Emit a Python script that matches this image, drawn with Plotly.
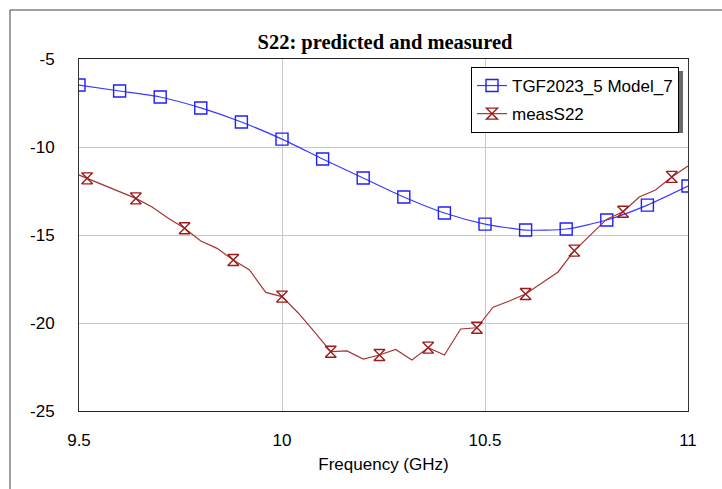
import plotly.graph_objects as go

# ---- data ----
freq_model = [9.5, 9.6, 9.7, 9.8, 9.9, 10.0, 10.1, 10.2, 10.3, 10.4, 10.5, 10.6, 10.7, 10.8, 10.9, 11.0]
s22_model = [-6.48, -6.82, -7.16, -7.78, -8.58, -9.55, -10.68, -11.76, -12.84, -13.75,
             -14.38, -14.72, -14.66, -14.15, -13.30, -12.22]

freq_meas = [9.48, 9.52, 9.56, 9.60, 9.64, 9.68, 9.72, 9.76, 9.80, 9.84, 9.88, 9.92, 9.96,
             10.00, 10.04, 10.08, 10.12, 10.16, 10.20, 10.24, 10.28, 10.32, 10.36, 10.40,
             10.44, 10.48, 10.52, 10.56, 10.60, 10.64, 10.68, 10.72, 10.76, 10.80, 10.84,
             10.88, 10.92, 10.96, 11.00]
s22_meas = [-11.40, -11.78, -12.16, -12.53, -12.92, -13.41, -14.05, -14.62, -15.34, -15.76,
            -16.42, -16.99, -18.26, -18.50, -19.43, -20.51, -21.63, -21.59, -22.05, -21.82,
            -21.50, -22.10, -21.40, -21.82, -20.34, -20.27, -19.10, -18.75, -18.35, -17.73,
            -17.10, -15.89, -15.00, -14.10, -13.68, -12.84, -12.44, -11.70, -11.08]

x_ticks = [9.5, 10, 10.5, 11]
x_ticklabels = ["9.5", "10", "10.5", "11"]
y_ticks = [-25, -20, -15, -10, -5]
y_ticklabels = ["-25", "-20", "-15", "-10", "-5"]

series_names = ["TGF2023_5 Model_7", "measS22"]
title_text = "<b>S22: predicted and measured</b>"
x_title = "Frequency (GHz)"

# ---- styles ----
BLUE_LINE = "#3a3aff"
BLUE_MK = "#1f1fff"
RED_LINE = "#a83434"
RED_MK = "#9c1c1c"

W, H = 722, 489
L, R, T, B = 79, 34, 59, 78
PW, PH = W - L - R, H - T - B


def px_to_paper_x(px):
    return (px - L) / PW


def px_to_paper_y(py):
    return (H - B - py) / PH


fig = go.Figure()

# model (blue)
fig.add_trace(go.Scatter(
    x=freq_model, y=s22_model, mode="lines+markers", name=series_names[0],
    line=dict(color=BLUE_LINE, width=1.2, shape="spline", smoothing=0.6),
    marker=dict(symbol="square-open", size=12, color=BLUE_MK, line=dict(width=1.4, color=BLUE_MK)),
    legendgroup="a", showlegend=True,
))

# measured (red): line through all points, markers on every third point
fig.add_trace(go.Scatter(
    x=freq_meas, y=s22_meas, mode="lines", name=series_names[1],
    line=dict(color=RED_LINE, width=1.2),
    legendgroup="b", showlegend=False,
))
fig.add_trace(go.Scatter(
    x=freq_meas[1::3], y=s22_meas[1::3], mode="markers", name=series_names[1],
    marker=dict(symbol="hourglass-open", size=11, color=RED_MK, line=dict(width=1.4, color=RED_MK)),
    legendgroup="b", showlegend=False,
))
# legend proxy for measured
fig.add_trace(go.Scatter(
    x=[None], y=[None], mode="lines+markers", name=series_names[1],
    line=dict(color=RED_LINE, width=1.2),
    marker=dict(symbol="hourglass-open", size=11, color=RED_MK, line=dict(width=1.4, color=RED_MK)),
    legendgroup="b", showlegend=True,
))

axis_font = dict(family="Liberation Sans, Arial, sans-serif", size=17, color="#000")

fig.update_layout(
    width=W, height=H,
    margin=dict(l=L, r=R, t=T, b=B),
    paper_bgcolor="white", plot_bgcolor="white",
    title=dict(text=title_text, x=px_to_paper_x(385), xref="paper", xanchor="center",
               y=(H - 42) / H, yanchor="middle",
               font=dict(family="Liberation Serif, Times New Roman, serif", size=20.5, color="#000")),
    xaxis=dict(range=[9.5, 11], tickvals=x_ticks, ticktext=x_ticklabels,
               showgrid=True, gridcolor="#c8c8c8", gridwidth=1, zeroline=False,
               showline=True, linecolor="#222", linewidth=1, mirror=True,
               ticks="", ticklabelstandoff=14, tickfont=axis_font,
               title=dict(text=x_title, font=axis_font, standoff=8)),
    yaxis=dict(range=[-25, -5], tickvals=y_ticks, ticktext=y_ticklabels,
               showgrid=True, gridcolor="#c8c8c8", gridwidth=1, zeroline=False,
               showline=True, linecolor="#333", linewidth=1, mirror=True,
               ticks="", ticklabelstandoff=20, tickfont=axis_font),
    legend=dict(x=px_to_paper_x(679), xanchor="right", y=px_to_paper_y(67), yanchor="top",
                bgcolor="white", bordercolor="#000", borderwidth=1,
                font=dict(family="Liberation Sans, Arial, sans-serif", size=17, color="#000"),
                itemwidth=30, traceorder="grouped", tracegroupgap=3),
    showlegend=True,
)

# legend drop shadow
fig.add_shape(type="rect", xref="paper", yref="paper", layer="above",
              x0=px_to_paper_x(474), x1=px_to_paper_x(683), y0=px_to_paper_y(71), y1=px_to_paper_y(133),
              fillcolor="#6a6a6a", line=dict(width=0))

# outer frame (left and top edges visible)
fig.add_shape(type="line", xref="paper", yref="paper",
              x0=px_to_paper_x(10), x1=px_to_paper_x(740), y0=px_to_paper_y(10), y1=px_to_paper_y(10),
              line=dict(color="#404040", width=1))
fig.add_shape(type="line", xref="paper", yref="paper",
              x0=px_to_paper_x(10), x1=px_to_paper_x(10), y0=px_to_paper_y(10), y1=px_to_paper_y(500),
              line=dict(color="#404040", width=1))

fig.write_html("out.html")
